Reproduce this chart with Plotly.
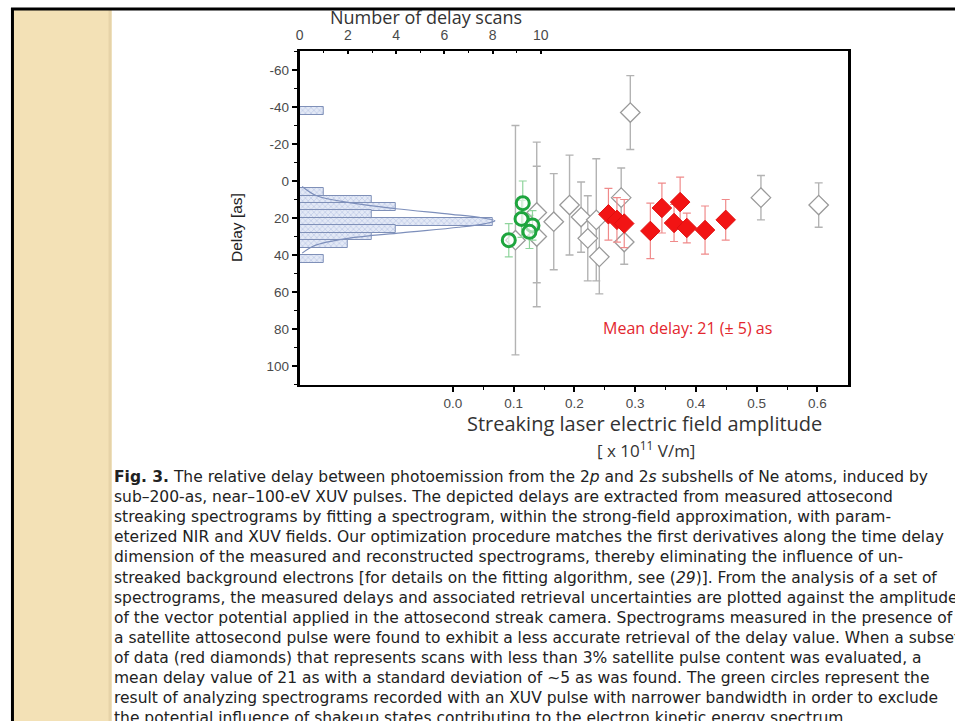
import plotly.graph_objects as go

W, H = 955, 721

# ---------------- data ----------------
# histogram: delay bin centres [as] and number of delay scans
hist_delay = [-38, 6, 10, 14, 18, 22, 26, 30, 34, 42]
hist_count = [1, 1, 3, 4, 3, 8, 4, 3, 2, 1]

# fitted curve over the histogram
gauss_delay = [3, 8, 12, 15, 18, 20, 21.5, 23, 25, 28, 31, 35, 39]
gauss_count = [0.1, 0.7, 2.2, 4.0, 6.3, 7.6, 8.1, 7.7, 6.6, 4.2, 2.0, 0.6, 0.1]

# grey open diamonds
grey_field = [0.103, 0.138, 0.138, 0.166, 0.192, 0.211, 0.222, 0.236, 0.241, 0.277, 0.282, 0.292, 0.507, 0.602]
grey_delay = [32, 17, 30, 22, 13, 19.5, 31, 21, 41, 9, 33, -37, 9, 13]
grey_err = [62, 38, 38, 26, 27, 19, 23, 33, 20, 16, 12, 20, 12, 12]

# green circles
green_field = [0.115, 0.113, 0.131, 0.126, 0.092]
green_delay = [12, 20.5, 24, 27.5, 32]
green_err = [12, 10, 8, 9, 9]

# red diamonds
red_field = [0.256, 0.270, 0.282, 0.325, 0.344, 0.364, 0.374, 0.385, 0.415, 0.449]
red_delay = [18, 21, 23, 27, 14.6, 22.7, 11.4, 25.4, 26.5, 21]
red_err = [14, 12, 13, 15, 13.5, 10, 13.5, 8, 13, 11]

x_ticks = [0.0, 0.1, 0.2, 0.3, 0.4, 0.5, 0.6]
x_minor = [0.05, 0.15, 0.25, 0.35, 0.45, 0.55]
top_ticks = [0, 2, 4, 6, 8, 10]
top_minor = [1, 3, 5, 7, 9]
y_ticks = [-60, -40, -20, 0, 20, 40, 60, 80, 100]
y_minor = [-70, -50, -30, -10, 10, 30, 50, 70, 90, 110]

caption = [
    "<b>Fig. 3.</b> The relative delay between photoemission from the 2<i>p</i> and 2<i>s</i> subshells of Ne atoms, induced by",
    "sub–200-as, near–100-eV XUV pulses. The depicted delays are extracted from measured attosecond",
    "streaking spectrograms by fitting a spectrogram, within the strong-field approximation, with param-",
    "eterized NIR and XUV fields. Our optimization procedure matches the first derivatives along the time delay",
    "dimension of the measured and reconstructed spectrograms, thereby eliminating the influence of un-",
    "streaked background electrons [for details on the fitting algorithm, see (<i>29</i>)]. From the analysis of a set of",
    "spectrograms, the measured delays and associated retrieval uncertainties are plotted against the amplitude",
    "of the vector potential applied in the attosecond streak camera. Spectrograms measured in the presence of",
    "a satellite attosecond pulse were found to exhibit a less accurate retrieval of the delay value. When a subset",
    "of data (red diamonds) that represents scans with less than 3% satellite pulse content was evaluated, a",
    "mean delay value of 21 as with a standard deviation of ~5 as was found. The green circles represent the",
    "result of analyzing spectrograms recorded with an XUV pulse with narrower bandwidth in order to exclude",
    "the potential influence of shakeup states contributing to the electron kinetic energy spectrum.",
]

# ---------------- helpers ----------------
def px(x):
    return x / W

def py(y):
    return 1 - y / H

L, R, T, B = 297, 848, 51, 385

fig = go.Figure()

fig.add_trace(go.Bar(
    x=hist_count, y=hist_delay, orientation="h", width=4.2,
    xaxis="x2", yaxis="y",
    marker=dict(color="#dfe6f5",
                line=dict(color="#7f90b8", width=1),
                pattern=dict(shape="x", size=4, solidity=0.25,
                             fgcolor="#7d93c8", bgcolor="#e3e9f6")),
    showlegend=False))

fig.add_trace(go.Scatter(
    x=gauss_count, y=gauss_delay, xaxis="x2", yaxis="y", mode="lines",
    line=dict(color="#7d8fbb", width=1.2, shape="spline"), showlegend=False))

fig.add_trace(go.Scatter(
    x=grey_field, y=grey_delay, mode="markers",
    error_y=dict(type="data", array=grey_err, color="#b3b3b3", thickness=1.4, width=4),
    marker=dict(symbol="diamond", size=15, color="white",
                line=dict(color="#9a9a9a", width=1.3)),
    showlegend=False))

fig.add_trace(go.Scatter(
    x=green_field, y=green_delay, mode="markers",
    error_y=dict(type="data", array=green_err, color="#8fd49c", thickness=1.2, width=4),
    marker=dict(symbol="circle", size=13, color="rgba(255,255,255,0.6)",
                line=dict(color="#1ea53e", width=3)),
    showlegend=False))

fig.add_trace(go.Scatter(
    x=red_field, y=red_delay, mode="markers",
    error_y=dict(type="data", array=red_err, color="#f08a8a", thickness=1.2, width=4),
    marker=dict(symbol="diamond", size=15, color="#f21414",
                line=dict(color="#e01010", width=1)),
    showlegend=False))

tickfont = dict(family="Liberation Sans Narrow, Arial Narrow, sans-serif", size=13.5, color="#4a4a4a")

fig.update_layout(
    width=W, height=H, margin=dict(l=0, r=0, t=0, b=0),
    paper_bgcolor="white", plot_bgcolor="white",
    bargap=0,
    xaxis=dict(domain=[px(L), px(R)], range=[-0.252, 0.651], anchor="y",
               tickvals=x_ticks, ticktext=["%.1f" % v for v in x_ticks],
               ticks="outside", ticklen=5, tickwidth=1.5, tickcolor="black",
               minor=dict(tickvals=x_minor, ticks="outside", ticklen=3, tickwidth=1.2, tickcolor="black"),
               showline=True, linewidth=2, linecolor="black",
               showgrid=False, zeroline=False, tickfont=tickfont),
    xaxis2=dict(overlaying="x", side="top", anchor="y", range=[0, 22.77],
                tickvals=top_ticks, ticks="inside", ticklen=3, tickwidth=1.5, tickcolor="black",
                minor=dict(tickvals=top_minor, ticks="inside", ticklen=2, tickwidth=1.2, tickcolor="black"),
                showline=True, linewidth=2, linecolor="black",
                showgrid=False, zeroline=False, ticklabelstandoff=3,
                tickfont=dict(family="Liberation Sans Narrow, Arial Narrow, sans-serif", size=14, color="#4a4a4a")),
    yaxis=dict(domain=[py(B), py(T)], range=[110.3, -70.3], anchor="x",
               tickvals=y_ticks, ticktext=[str(v) for v in y_ticks],
               ticks="outside", ticklen=5, tickwidth=1.5, tickcolor="black",
               minor=dict(tickvals=y_minor, ticks="outside", ticklen=3, tickwidth=1.2, tickcolor="black"),
               showline=True, linewidth=3, linecolor="black", mirror=True,
               showgrid=False, zeroline=False, tickfont=tickfont),
)

shapes = [
    # beige stripe on the left
    dict(type="rect", xref="paper", yref="paper", x0=px(10), x1=px(108), y0=0, y1=py(10),
         fillcolor="#f3e1b6", line=dict(width=0), layer="below"),
    dict(type="rect", xref="paper", yref="paper", x0=px(105), x1=px(108), y0=0, y1=py(10),
         fillcolor="#e6d3a8", line=dict(width=0), layer="below"),
    # black frame lines
    dict(type="line", xref="paper", yref="paper", x0=px(7), x1=1.0, y0=py(9), y1=py(9),
         line=dict(color="black", width=3)),
    dict(type="line", xref="paper", yref="paper", x0=px(8.5), x1=px(8.5), y0=0, y1=py(8),
         line=dict(color="black", width=3)),
]
fig.update_layout(shapes=shapes)

ann = []
ann.append(dict(text="Number of delay scans", x=px(424), y=py(17), xref="paper", yref="paper",
                showarrow=False, xanchor="center", yanchor="middle", borderpad=0,
                font=dict(family="Open Sans, sans-serif", size=18, color="#333333")))
ann.append(dict(text="Delay [as]", x=px(233), y=py(228), xref="paper", yref="paper",
                showarrow=False, textangle=-90, xanchor="center", yanchor="middle",
                font=dict(family="Liberation Sans Narrow, Arial Narrow, sans-serif", size=15.5, color="#222222")))
ann.append(dict(text="Streaking laser electric field amplitude", x=px(643), y=py(423), xref="paper", yref="paper",
                showarrow=False, xanchor="center", yanchor="middle", borderpad=0,
                font=dict(family="Open Sans, sans-serif", size=20, color="#333333")))
ann.append(dict(text="[ x 10<sup>11</sup> V/m]", x=px(645), y=py(450), xref="paper", yref="paper",
                showarrow=False, xanchor="center", yanchor="middle", borderpad=0,
                font=dict(family="Open Sans, sans-serif", size=17, color="#333333")))
ann.append(dict(text="Mean delay: 21 (± 5) as", x=px(686), y=py(328), xref="paper", yref="paper",
                showarrow=False, xanchor="center", yanchor="middle",
                font=dict(family="Open Sans, sans-serif", size=16, color="#e3262e")))

for i, line in enumerate(caption):
    ann.append(dict(text=line, x=px(108), y=py(477 + 20.1 * i), xref="paper", yref="paper",
                    showarrow=False, xanchor="left", yanchor="middle", align="left",
                    font=dict(family="DejaVu Sans, sans-serif", size=15.5, color="#222222")))

fig.update_layout(annotations=ann)

fig.write_html("out.html", config={"displayModeBar": False},
               post_script="document.body.style.margin='0';")
